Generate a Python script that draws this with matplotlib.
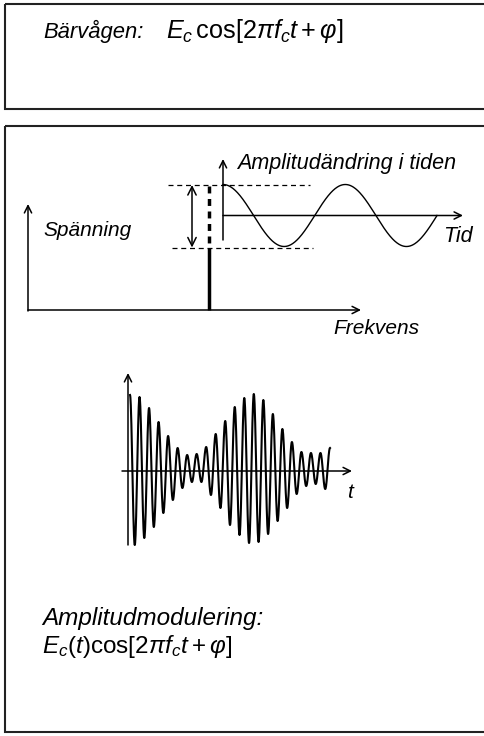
import numpy as np
import matplotlib
matplotlib.use("Agg")
import matplotlib.pyplot as plt
from matplotlib.patches import Rectangle

plt.rcParams['font.family'] = ['Liberation Sans', 'DejaVu Sans']
plt.rcParams['mathtext.fontset'] = 'custom'
plt.rcParams['mathtext.rm'] = 'Liberation Sans'
plt.rcParams['mathtext.it'] = 'Liberation Sans:italic'
plt.rcParams['mathtext.bf'] = 'Liberation Sans:bold'

# --- texts ---
carrier_label = "Bärvågen:"
carrier_formula = r"$E_c\,\cos[2\pi f_c t+\varphi]$"
volt_label = "Spänning"
freq_label = "Frekvens"
amp_label = "Amplitudändring i tiden"
tid_label = "Tid"
t_label = "t"
am_label = "Amplitudmodulering:"
am_formula = r"$E_c(t)\cos[2\pi f_c t+\varphi]$"

# --- carrier shown in the time inset ---
carrier_amp = 1.0
carrier_cycles = 1.75

# --- AM signal: successive peaks (alternating sign) ---
am_peaks = [76, -74, 74, -67, 63, -56, 49, -42, 35, -29, 23, -17, 16, -11,
            17, -11, 24, -24, 37, -37, 50, -54, 64, -64, 73, -72, 77, -71,
            71, -63, 57, -50, 42, -37, 29, -23, 19, -15, 18, -13, 18, -18, 23]

W, H = 484, 736
fig = plt.figure(figsize=(W / 100, H / 100), dpi=100)

# background axes in pixel coordinates (layout, boxes, text)
bg = fig.add_axes([0, 0, 1, 1])
bg.set_xlim(0, W)
bg.set_ylim(H, 0)
bg.axis('off')


def px_axes(x0, y0, x1, y1):
    # axes covering a pixel box (y measured from top)
    ax = fig.add_axes([x0 / W, 1 - y1 / H, (x1 - x0) / W, (y1 - y0) / H])
    ax.axis('off')
    ax.patch.set_alpha(0)
    return ax


def arrow(ax, x0, y0, x1, y1, style='->', lw=1.1, ms=13):
    ax.annotate('', xy=(x1, y1), xytext=(x0, y0),
                arrowprops=dict(arrowstyle=style, lw=lw, color='black',
                                shrinkA=0, shrinkB=0, mutation_scale=ms),
                annotation_clip=False)


# boxes
for (y0, y1) in [(4, 108.5), (126, 732)]:
    bg.add_patch(Rectangle((5, y0), 520, y1 - y0, fill=False,
                           lw=1.5, edgecolor='#222222', clip_on=True))

bg.text(43, 38, carrier_label, fontsize=15.8, style='italic',
        va='baseline', ha='left')
bg.text(166, 38, carrier_formula, fontsize=18.2, va='baseline', ha='left')

# --- spectrum diagram ---
arrow(bg, 28, 311, 28, 204)
arrow(bg, 28, 310, 361, 310)
bg.text(43, 230, volt_label, fontsize=15, style='italic', va='center')
bg.text(333, 328, freq_label, fontsize=15, style='italic', va='center')

top_y, bot_y, line_x = 185, 247.5, 208.5
bg.plot([168, 310], [top_y, top_y], color='black', lw=0.9, ls=(0, (4, 3)))
bg.plot([172, 313], [bot_y, bot_y], color='black', lw=0.9, ls=(0, (4, 3)))
bg.plot([line_x, line_x], [bot_y, 310], color='black', lw=2.5,
        solid_capstyle='butt')
bg.plot([line_x, line_x], [top_y + 1, bot_y - 2], color='black', lw=2.5,
        ls=(0, (2.0, 1.6)), dash_capstyle='butt')
arrow(bg, 192, top_y, 192, bot_y, style='<->', ms=15)

# --- time inset ---
period_px = 122.3
tax = px_axes(223, 150, 470, 250)
zero_y = 215.5
amp_px = 31
tax.set_xlim(0, (470 - 223) / period_px)
tax.set_ylim(-(250 - zero_y) / amp_px, (zero_y - 150) / amp_px)
tt = np.linspace(0, carrier_cycles, 400)
tax.plot(tt, carrier_amp * np.cos(2 * np.pi * tt), color='black', lw=1.0,
         clip_on=False)
arrow(tax, 0, -(240 - zero_y) / amp_px, 0, (zero_y - 159) / amp_px)
arrow(tax, 0, 0, (463 - 223) / period_px, 0)
bg.text(237, 163, amp_label, fontsize=15.5, style='italic', va='center')
bg.text(443, 237, tid_label, fontsize=15.5, style='italic', va='center')

# --- AM signal ---
step_px = 200 / (len(am_peaks) - 1)
x_start = 130
zero_am = 471
aax = px_axes(118, 368, 356, 550)
aax.set_xlim((118 - x_start) / step_px, (356 - x_start) / step_px)
aax.set_ylim(-(550 - zero_am), zero_am - 368)

xs, ys = [], []
s = np.linspace(0, 1, 25)
for i in range(len(am_peaks) - 1):
    a, b = am_peaks[i], am_peaks[i + 1]
    xs.append(i + s)
    ys.append((a + b) / 2 + (a - b) / 2 * np.cos(np.pi * s))
aax.plot(np.concatenate(xs), np.concatenate(ys), color='black', lw=1.5)
arrow(aax, (128 - x_start) / step_px, -(545 - zero_am),
      (128 - x_start) / step_px, zero_am - 373)
arrow(aax, (122 - x_start) / step_px, 0, (352 - x_start) / step_px, 0)
bg.text(347, 492, t_label, fontsize=15, style='italic', va='center')

# --- bottom text ---
bg.text(42, 625, am_label, fontsize=17.5, style='italic', va='baseline')
bg.text(42, 653, am_formula, fontsize=17.5, va='baseline')

fig.savefig("out.png", dpi=100)
